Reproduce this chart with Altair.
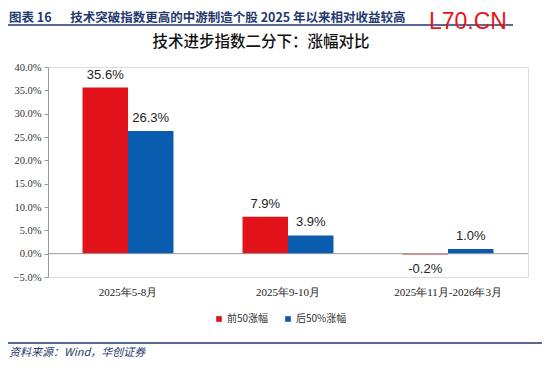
import altair as alt
import pandas as pd

categories = ["2025年5-8月", "2025年9-10月", "2025年11月-2026年3月"]
series_names = ["前50涨幅", "后50%涨幅"]
top50 = [35.6, 7.9, -0.2]
bottom50 = [26.3, 3.9, 1.0]
y_ticks = [-5, 0, 5, 10, 15, 20, 25, 30, 35, 40]

header_text = "图表 16\u2003\u2002技术突破指数更高的中游制造个股 2025 年以来相对收益较高"
chart_title = "技术进步指数二分下：涨幅对比"
source_text = "资料来源：Wind，华创证券"
watermark = "L70.CN"

colors = ["#E3131B", "#0A5CAF"]

rows = []
for i, c in enumerate(categories):
    rows.append({"cat": c, "series": series_names[0], "value": top50[i]})
    rows.append({"cat": c, "series": series_names[1], "value": bottom50[i]})
df = pd.DataFrame(rows)
df["label"] = df["value"].map(lambda v: f"{v:.1f}%")

W, H = 480, 210

x_axis = alt.Axis(domain=False, ticks=False, labelAngle=0, labelPadding=9,
                  labelFont="Liberation Serif", labelFontSize=11, labelColor="#222")
y_axis = alt.Axis(values=y_ticks, labelExpr="format(datum.value/100, '.1%')",
                  labelOverlap=False, grid=False, domain=True, domainColor="#999",
                  tickColor="#999", tickSize=4, labelFont="Liberation Serif",
                  labelFontSize=10.5, labelColor="#333", labelPadding=3)

x_scale = alt.Scale(paddingInner=0, paddingOuter=0)
y_scale = alt.Scale(domain=[-5, 40], nice=False, zero=False)
xo_enc = alt.XOffset("series:N", sort=series_names,
                     scale=alt.Scale(paddingInner=0, paddingOuter=0.76))


def X():
    return alt.X("cat:N", sort=categories, title=None, scale=x_scale, axis=x_axis)


def Y():
    return alt.Y("value:Q", title=None, scale=y_scale, axis=y_axis)


base = alt.Chart(df)

bars = base.mark_bar(size=45.5).encode(
    x=X(), xOffset=xo_enc, y=Y(),
    color=alt.Color("series:N", sort=series_names,
                    scale=alt.Scale(domain=series_names, range=colors),
                    legend=alt.Legend(title=None, orient="none", legendX=166, legendY=247,
                                      padding=0, direction="horizontal", symbolType="square",
                                      symbolSize=32, symbolStrokeWidth=0, labelOffset=3,
                                      labelFont="Noto Sans CJK SC", labelFontSize=10,
                                      labelColor="#333", columnPadding=14, symbolOffset=0)),
)

pos_labels = base.transform_filter("datum.value >= 0").mark_text(
    baseline="bottom", dy=-6, fontSize=13, font="Liberation Sans", color="#222"
).encode(x=X(), xOffset=xo_enc, y=Y(), text="label:N")

neg_labels = base.transform_filter("datum.value < 0").mark_text(
    baseline="top", dy=8, fontSize=13, font="Liberation Sans", color="#222"
).encode(x=X(), xOffset=xo_enc, y=Y(), text="label:N")

zero_rule = alt.Chart(pd.DataFrame({"value": [0]})).mark_rule(color="#999", strokeWidth=1).encode(
    y=Y(), x=alt.value(0), x2=alt.value(W))

one = pd.DataFrame({"t": [""]})

header_line = alt.Chart(one).mark_rule(color="#1F3A6E", strokeWidth=1.5).encode(
    x=alt.value(-40), x2=alt.value(465), y=alt.value(-42))
footer_line = alt.Chart(one).mark_rule(color="#1F3A6E", strokeWidth=1.5).encode(
    x=alt.value(-40), x2=alt.value(497), y=alt.value(276))

header = alt.Chart(pd.DataFrame({"t": [header_text]})).mark_text(
    align="left", baseline="middle", font="Noto Sans CJK SC", fontWeight="bold",
    fontSize=12.5, color="#1F3A6E").encode(x=alt.value(-39), y=alt.value(-49), text="t:N")

wm = alt.Chart(pd.DataFrame({"t": [watermark]})).mark_text(
    align="left", baseline="middle", font="Liberation Sans", fontSize=23,
    color="#E8141C").encode(x=alt.value(381), y=alt.value(-45), text="t:N")

title = alt.Chart(pd.DataFrame({"t": [chart_title]})).mark_text(
    align="center", baseline="middle", font="Noto Sans CJK SC", fontSize=15.5,
    fontWeight=500, color="#111").encode(x=alt.value(213), y=alt.value(-25), text="t:N")

source = alt.Chart(pd.DataFrame({"t": [source_text]})).mark_text(
    align="left", baseline="middle", font="Noto Sans CJK SC", fontSize=11, fontStyle="italic",
    color="#1F3A6E").encode(x=alt.value(-39), y=alt.value(286), text="t:N")

chart = alt.layer(bars, zero_rule, pos_labels, neg_labels, header_line, footer_line,
                  header, wm, title, source).properties(
    width=W, height=H,
    padding={"left": 40, "top": 59, "right": 14, "bottom": 87},
    autosize=alt.AutoSizeParams(type="none"),
).configure_view(stroke=None).configure(background="white").configure_axisY(labelOverlap=False)

chart.save("out.html", embed_options={"renderer": "svg", "actions": False})
